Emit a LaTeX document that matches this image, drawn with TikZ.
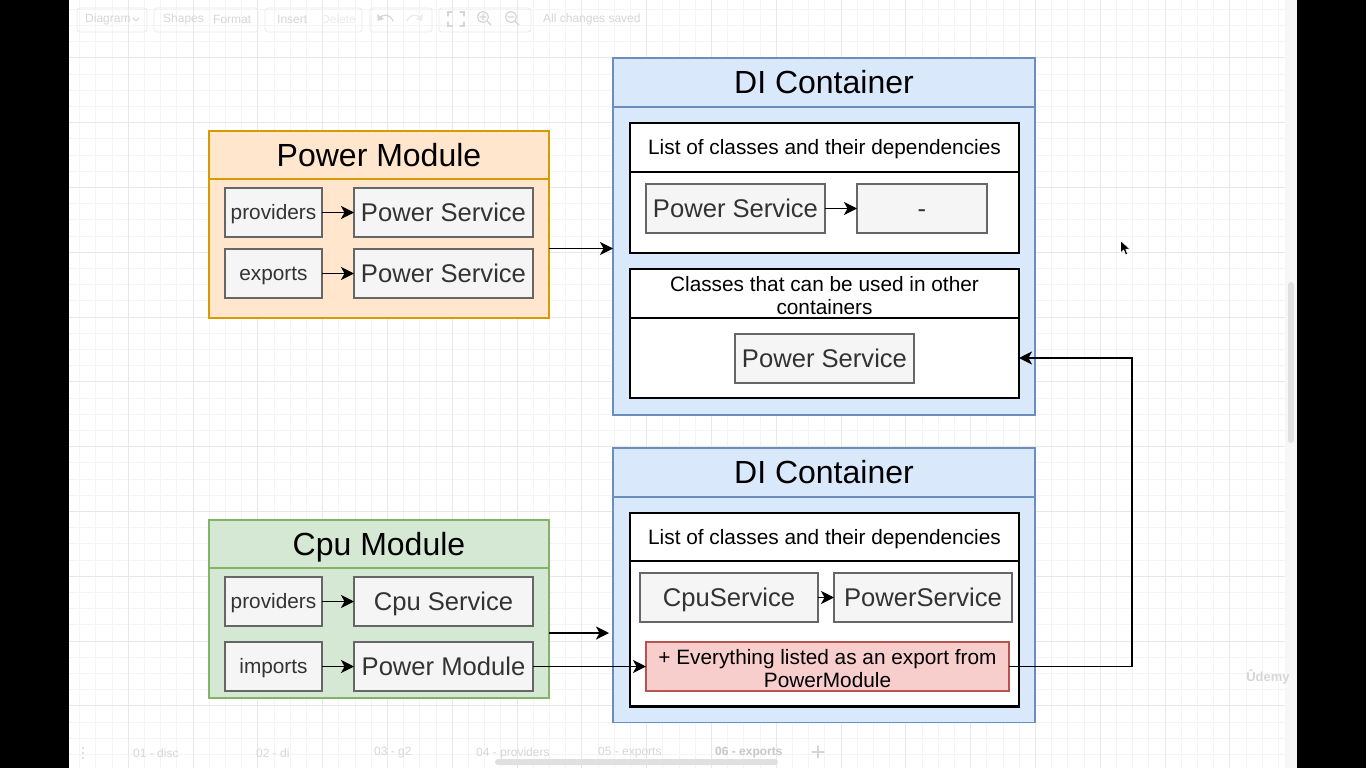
\documentclass[tikz,border=0pt]{standalone}
\usepackage{fontspec}
\setmainfont{Liberation Sans}
\usetikzlibrary{arrows.meta}

\definecolor{orfill}{HTML}{FFE6CC}
\definecolor{orline}{HTML}{D79B00}
\definecolor{grfill}{HTML}{D5E8D4}
\definecolor{grline}{HTML}{82B366}
\definecolor{blfill}{HTML}{DAE8FC}
\definecolor{blline}{HTML}{6C8EBF}
\definecolor{rdfill}{HTML}{F8CECC}
\definecolor{rdline}{HTML}{B85450}
\definecolor{gyfill}{HTML}{F5F5F5}
\definecolor{gyline}{HTML}{666666}
\definecolor{gytext}{HTML}{333333}
\definecolor{gridminor}{HTML}{F4F4F4}
\definecolor{gridmajor}{HTML}{E8E8E8}
\definecolor{uitext}{HTML}{D6D6D6}
\definecolor{uifaint}{HTML}{EBEBEB}

\newcommand\fsTitle{\fontsize{32}{36}\selectfont}
\newcommand\fsSvc{\fontsize{25.6}{29}\selectfont}
\newcommand\fsSmall{\fontsize{20.8}{23}\selectfont}
\newcommand\fsUi{\fontsize{12}{14}\selectfont}

\tikzset{
  box/.style={rectangle, inner sep=0pt, outer sep=0pt, anchor=north west,
    line width=1.6pt, text depth=0pt},
  twoline/.style={text height=42pt, text depth=0pt, align=center},
  orangebox/.style={box, fill=orfill, draw=orline},
  greenbox/.style={box, fill=grfill, draw=grline},
  bluebox/.style={box, fill=blfill, draw=blline},
  whitebox/.style={box, fill=white, draw=black, line width=2.2pt},
  greybox/.style={box, fill=gyfill, draw=gyline, text=gytext},
  redbox/.style={box, fill=rdfill, draw=rdline},
  title/.style={font=\fsTitle, text height=22.9pt},
  svc/.style={font=\fsSvc, text height=18.3pt},
  small/.style={font=\fsSmall, text height=14.6pt},
  arr/.style={line width=1.7pt, -{Stealth[length=13pt, width=13pt, inset=3.5pt]}},
  ui/.style={font=\fsUi, text=uitext, anchor=west, inner sep=0pt},
  uiicon/.style={draw=uitext, line width=1.2pt, line cap=round},
}

\begin{document}
\begin{tikzpicture}[x=1pt, y=-1pt]
\useasboundingbox (0,0) rectangle (1366,768);
\fill[white] (0,0) rectangle (1366,768);

% canvas grid
\foreach \i in {0,...,75}
  \draw[gridminor, line width=1pt] ({79.7+16.2*\i},0) -- ({79.7+16.2*\i},768);
\foreach \i in {0,...,46}
  \draw[gridminor, line width=1pt] (69,{9.3+16.2*\i}) -- (1297,{9.3+16.2*\i});
\foreach \i in {0,...,18}
  \draw[gridmajor, line width=1pt] ({128.3+64.8*\i},0) -- ({128.3+64.8*\i},768);
\foreach \i in {0,...,10}
  \draw[gridmajor, line width=1pt] (69,{57.9+64.8*\i}) -- (1297,{57.9+64.8*\i});

% vertical scrollbar
\fill[white!97!black] (1285,0) rectangle (1297,768);
\fill[white!88!black, rounded corners=3pt] (1288,282) rectangle (1294,443);

% toolbar
\begin{scope}[draw=uifaint, line width=0.8pt, rounded corners=3pt]
  \draw (77,8) rectangle (147,32);
  \draw (154,8) rectangle (258,32);
  \draw (265,8) rectangle (362,32);
  \draw (370,8) rectangle (432,32);
  \draw (439,8) rectangle (531,32);
\end{scope}
\node[ui] (tbdiagram) at (85,19) {Diagram};
\draw[uiicon, line width=0.8pt] (133,18) -- (136,21) -- (139,18);
\node[ui] (tbshapes) at (163,19) {Shapes};
\node[ui] (tbformat) at (213,19) {Format};
\node[ui] (tbinsert) at (277,19) {Insert};
\node[ui, text=uifaint] (tbdelete) at (321,19) {Delete};
\draw[uiicon] (379,19) .. controls (383,13) and (390,14) .. (393,21);
\fill[uitext] (377,14) -- (378,21) -- (384,19) -- cycle;
\draw[uiicon, draw=uifaint] (421,19) .. controls (417,13) and (410,14) .. (407,21);
\fill[uifaint] (423,14) -- (422,21) -- (416,19) -- cycle;
\draw[uiicon] (448,16) -- (448,12) -- (452,12) (460,12) -- (464,12) -- (464,16)
  (464,22) -- (464,26) -- (460,26) (452,26) -- (448,26) -- (448,22);
\draw[uiicon] (483,17) circle (5.5pt) (487,21) -- (491,25) (480,17) -- (486,17) (483,14) -- (483,20);
\draw[uiicon] (511,17) circle (5.5pt) (515,21) -- (519,25) (508,17) -- (514,17);
\node[ui] (tbsaved) at (543,19) {All changes saved};

% page tabs
\fill[uitext] (83,748) circle (1.2pt) (83,753) circle (1.2pt) (83,758) circle (1.2pt);
\node[ui] (tab1) at (133,753) {01 - disc};
\node[ui] (tab2) at (256,753) {02 - di};
\node[ui] (tab3) at (374,753) {03 - g2};
\node[ui] (tab4) at (476,753) {04 - providers};
\node[ui] (tab5) at (598,753) {05 - exports};
\node[ui, font=\fsUi\bfseries, text=white!78!black] (tab6) at (715,753) {06 - exports};
\draw[uiicon] (812,752) -- (824,752) (818,746) -- (818,758);
\fill[white!88!black, rounded corners=3pt] (495,759) rectangle (778,765);

% ---------- Power Module ----------
\node[orangebox, title, minimum width=340pt, minimum height=48pt] (pmhead) at (209,131) {Power Module};
\node[orangebox, minimum width=340pt, minimum height=139pt] (pmbody) at (209,179) {};
\node[greybox, small, minimum width=97pt, minimum height=49pt] (pmprov) at (225,188) {providers};
\node[greybox, svc, minimum width=179pt, minimum height=49pt] (pmps1) at (354,188) {Power Service};
\node[greybox, small, minimum width=97pt, minimum height=49pt] (pmexp) at (225,249) {exports};
\node[greybox, svc, minimum width=179pt, minimum height=49pt] (pmps2) at (354,249) {Power Service};

% ---------- DI Container of the Power Module ----------
\node[bluebox, title, minimum width=422pt, minimum height=49pt] (d1head) at (613,58) {DI Container};
\node[bluebox, minimum width=422pt, minimum height=308pt] (d1body) at (613,107) {};
\node[whitebox, small, minimum width=389pt, minimum height=49pt] (d1listhead) at (630,123) {List of classes and their dependencies};
\node[whitebox, minimum width=389pt, minimum height=81pt] (d1listbody) at (630,172) {};
\node[greybox, svc, minimum width=179pt, minimum height=49pt] (d1ps) at (646,184) {Power Service};
\node[greybox, svc, minimum width=130pt, minimum height=49pt] (d1dash) at (857,184) {-};
\node[whitebox, small, twoline, minimum width=389pt, minimum height=49pt] (d1exhead) at (630,269) {Classes that can be used in other\\containers};
\node[whitebox, minimum width=389pt, minimum height=80pt] (d1exbody) at (630,318) {};
\node[greybox, svc, minimum width=179pt, minimum height=49pt] (d1exps) at (735,334) {Power Service};

% ---------- Cpu Module ----------
\node[greenbox, title, minimum width=340pt, minimum height=48pt] (cmhead) at (209,520) {Cpu Module};
\node[greenbox, minimum width=340pt, minimum height=130pt] (cmbody) at (209,568) {};
\node[greybox, small, minimum width=97pt, minimum height=49pt] (cmprov) at (225,577) {providers};
\node[greybox, svc, minimum width=179pt, minimum height=49pt] (cmcs) at (354,577) {Cpu Service};
\node[greybox, small, minimum width=97pt, minimum height=49pt] (cmimp) at (225,642) {imports};
\node[greybox, svc, minimum width=179pt, minimum height=49pt] (cmpm) at (354,642) {Power Module};

% ---------- DI Container of the Cpu Module ----------
\node[bluebox, title, minimum width=422pt, minimum height=49pt] (d2head) at (613,448) {DI Container};
\node[bluebox, minimum width=422pt, minimum height=225.5pt] (d2body) at (613,497) {};
\node[whitebox, small, minimum width=389pt, minimum height=48pt] (d2listhead) at (630,513) {List of classes and their dependencies};
\node[whitebox, minimum width=389pt, minimum height=145.5pt] (d2listbody) at (630,561) {};
\node[greybox, svc, minimum width=178pt, minimum height=49pt] (d2cpu) at (640,573) {CpuService};
\node[greybox, svc, minimum width=178pt, minimum height=49pt] (d2pow) at (834,573) {PowerService};
\node[redbox, small, twoline, minimum width=363pt, minimum height=49pt] (d2red) at (646,642) {+ Everything listed as an export from\\PowerModule};

% ---------- connectors ----------
\draw[arr] (pmprov) -- (pmps1);
\draw[arr] (pmexp) -- (pmps2);
\draw[arr] (cmprov) -- (cmcs);
\draw[arr] (cmimp) -- (cmpm);
\draw[arr] (d1ps) -- (d1dash);
\draw[arr] (d2cpu) -- (d2pow);
\draw[arr] (pmbody.east) -- (pmbody.east -| d1body.west);
\draw[arr, shorten >=4pt] (cmbody.east) -- (cmbody.east -| d2body.west);
\draw[arr] (cmpm.east) -- (cmpm.east -| d2red.west);
\coordinate (route) at (1132,358);
\draw[arr] (d2red.east) -| (route) -- (d1exbody.east);

% watermark and pointer
\node[font=\fontsize{13}{15}\selectfont\bfseries, text=white!84!black, inner sep=0pt] (mark) at (1268,677) {Ûdemy};
\filldraw[fill=black, draw=white, line width=0.6pt, line join=round]
  (1120.5,240.5) -- (1120.5,253) -- (1123.6,250) -- (1125.6,254.8) -- (1127.6,253.9)
  -- (1125.7,249.2) -- (1129.8,249) -- cycle;

% side bars of the screen
\fill[black] (0,0) rectangle (69,768);
\fill[black] (1297,0) rectangle (1366,768);
\end{tikzpicture}
\end{document}
